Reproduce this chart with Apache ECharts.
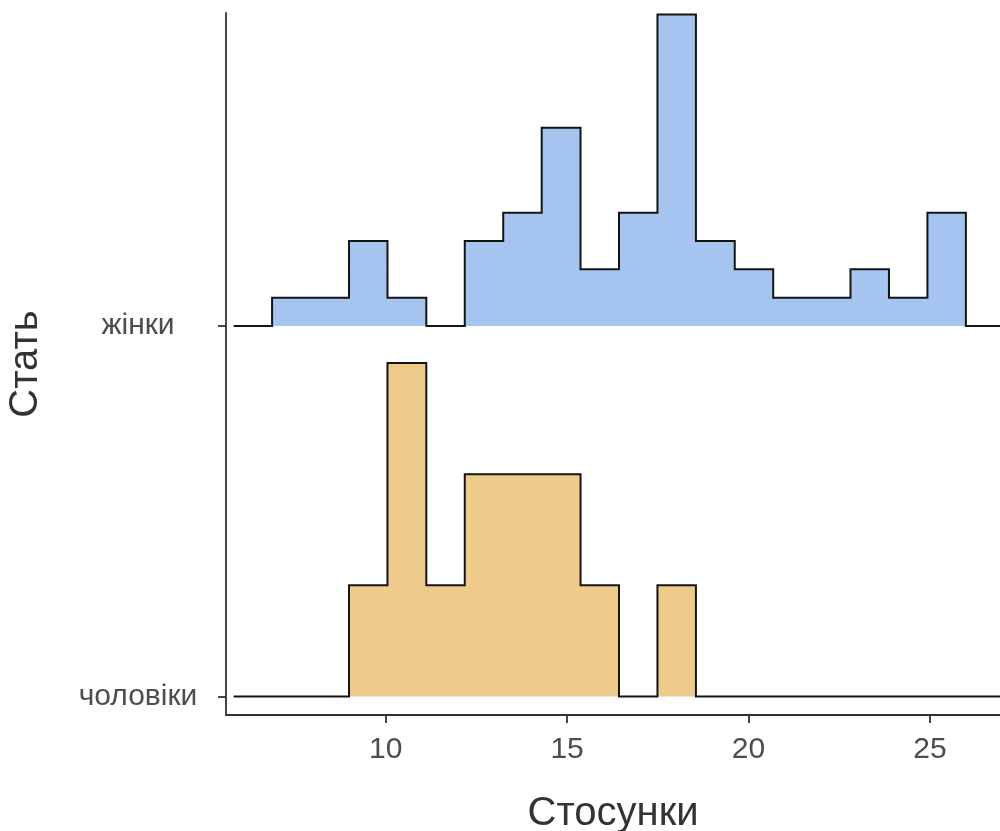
<!DOCTYPE html>
<html>
<head>
<meta charset="utf-8">
<script src="https://cdn.jsdelivr.net/npm/echarts@6/dist/echarts.min.js"></script>
<style>
  html, body { margin: 0; padding: 0; background: #ffffff; }
  #chart { width: 1000px; height: 831px; }
</style>
</head>
<body>
<div id="chart"></div>
<script>
// Groups, bottom ridge first (baselines at y = 1, 2)
const groups = ['чоловіки', 'жінки'];
const groupColors = ['#EFCB8B', '#A5C4F0'];

// Histogram bin edges (Стосунки), including one empty padding bin on each side
const binEdges = [5.81, 6.87, 7.93, 8.99, 10.05, 11.12, 12.18, 13.24, 14.30, 15.37,
                  16.43, 17.49, 18.55, 19.62, 20.68, 21.74, 22.81, 23.87, 24.93, 25.99, 27.05];

// Counts per bin for each group
const countsMen   = [0, 0, 0, 1, 3, 1, 2, 2, 2, 1, 0, 1, 0, 0, 0, 0, 0, 0, 0, 0];
const countsWomen = [0, 1, 1, 3, 1, 0, 3, 4, 7, 2, 4, 11, 3, 2, 1, 1, 2, 1, 4, 0];

// x-axis tick values and labels
const xTicks = [10, 15, 20, 25];
const xTickLabels = ['10', '15', '20', '25'];

const ridgeScale = 0.9;
const allCounts = [countsMen, countsWomen];

// Ridge heights: per-group density (equal-width bins), normalised to the tallest overall
const densities = allCounts.map(c => {
  const n = c.reduce((a, b) => a + b, 0);
  return c.map(v => v / n);
});
const maxDensity = Math.max(...densities.map(d => Math.max(...d)));
const heights = densities.map(d => d.map(v => v / maxDensity * ridgeScale));

const chart = echarts.init(document.getElementById('chart'), null, { renderer: 'canvas' });

const fontFamily = '"Liberation Sans", Arial, sans-serif';

function renderRidge(params, api) {
  const g = params.dataIndex;
  const base = g + 1;
  const h = heights[g];
  const pts = [];
  for (let k = 0; k < h.length; k++) {
    pts.push(api.coord([binEdges[k], base + h[k]]));
    pts.push(api.coord([binEdges[k + 1], base + h[k]]));
  }
  const fillPts = pts.concat([
    api.coord([binEdges[binEdges.length - 1], base]),
    api.coord([binEdges[0], base])
  ]);
  const cs = params.coordSys;
  return {
    type: 'group',
    clipPath: { type: 'rect', shape: { x: cs.x, y: cs.y - 5, width: cs.width, height: cs.height + 5 } },
    children: [
      { type: 'polygon', shape: { points: fillPts }, style: { fill: groupColors[g], stroke: null } },
      { type: 'polyline', shape: { points: pts }, style: { fill: null, stroke: '#141414', lineWidth: 2, lineJoin: 'miter' } }
    ]
  };
}

chart.setOption({
  animation: false,
  backgroundColor: '#ffffff',
  grid: { left: 226, right: 0, top: 13, bottom: 116, containLabel: false, outerBoundsMode: 'none' },
  xAxis: {
    type: 'value',
    min: 5.6,
    max: 26.93,
    name: 'Стосунки',
    nameLocation: 'middle',
    nameGap: 79,
    nameTextStyle: { fontFamily, fontSize: 40, color: '#333333' },
    axisLine: { show: true, onZero: false, lineStyle: { color: '#333333', width: 1.8 } },
    axisTick: { show: true, length: 8, customValues: xTicks, lineStyle: { color: '#333333', width: 1.8 } },
    axisLabel: {
      customValues: xTicks,
      formatter: v => xTickLabels[xTicks.indexOf(v)],
      fontFamily, fontSize: 30, color: '#4D4D4D', margin: 20
    },
    splitLine: { show: false }
  },
  yAxis: {
    type: 'value',
    min: 0.95,
    max: 2.845,
    name: 'Стать',
    nameLocation: 'middle',
    nameRotate: 90,
    nameGap: 180,
    nameTextStyle: { fontFamily, fontSize: 40, color: '#333333' },
    axisLine: { show: true, onZero: false, lineStyle: { color: '#333333', width: 1.8 } },
    axisTick: { show: true, length: 8, customValues: [1, 2], lineStyle: { color: '#333333', width: 1.8 } },
    axisLabel: {
      customValues: [1, 2],
      formatter: v => groups[Math.round(v) - 1],
      fontFamily, fontSize: 30, color: '#4D4D4D', align: 'center', margin: 88
    },
    splitLine: { show: false }
  },
  series: [{
    type: 'custom',
    renderItem: renderRidge,
    data: groups.map((name, i) => [binEdges[0], i + 1]),
    encode: { x: 0, y: 1 },
    silent: true
  }]
});
</script>
</body>
</html>
